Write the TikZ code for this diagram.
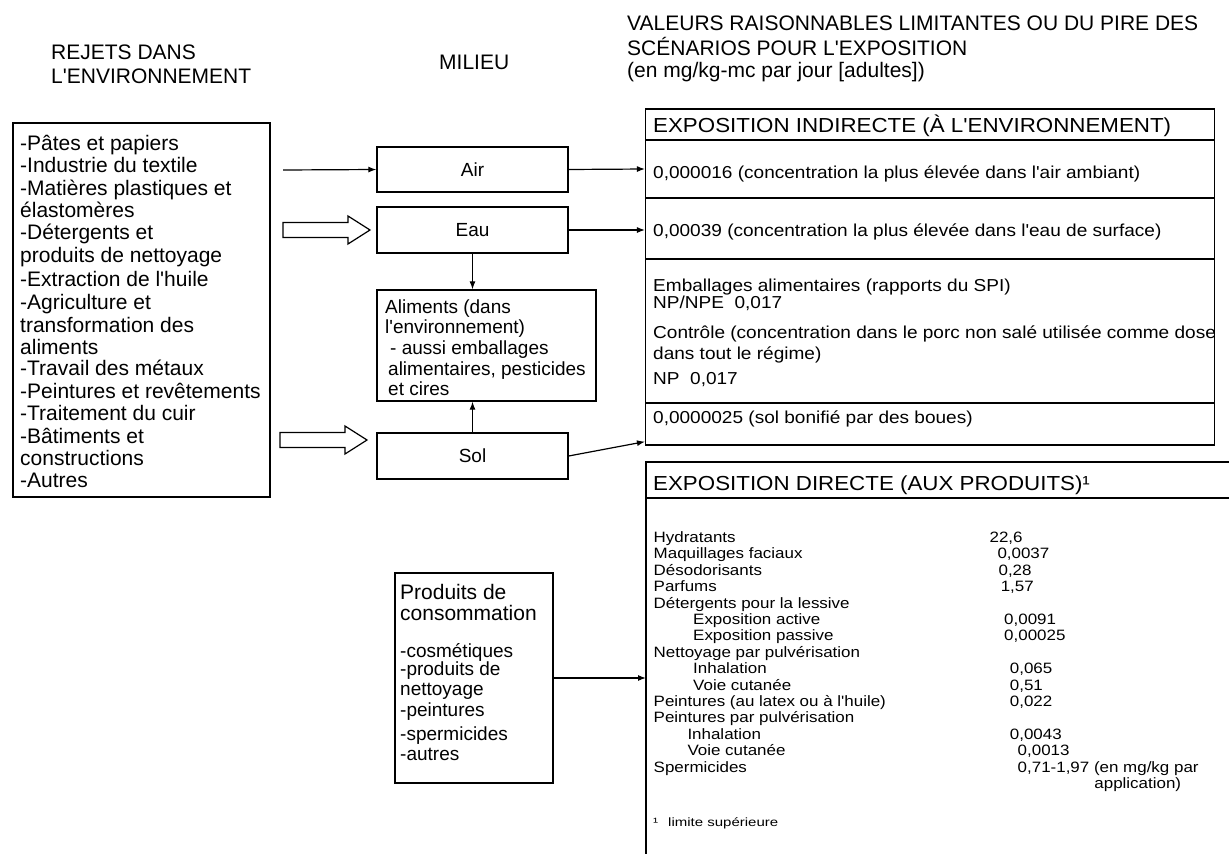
\documentclass[tikz,border=0pt]{standalone}
\usepackage{fontspec}
\setmainfont{Liberation Sans}[Ligatures=TeXOff]
\newfontfamily\wide{Liberation Sans}[FakeStretch=1.1]
\newfontfamily\wider{Liberation Sans}[FakeStretch=1.13]
\newfontfamily\widest{Liberation Sans}[FakeStretch=1.25]
\usetikzlibrary{arrows.meta,calc}
\tikzset{
  box/.style={draw, line width=1.3pt, rectangle, inner sep=0pt},
  lbl/.style={anchor=base west, inner sep=0pt},
  hdr/.style={lbl, font=\fontsize{21}{25}\selectfont},
  rj/.style={lbl, font=\fontsize{21}{25}\selectfont},
  md/.style={font=\fontsize{19}{23}\selectfont},
  mdl/.style={lbl, font=\fontsize{19}{23}\selectfont},
  pc/.style={lbl, font=\fontsize{21}{25}\selectfont},
  ex/.style={lbl, font=\wide\fontsize{17.3}{20}\selectfont},
  exh/.style={lbl, font=\wide\fontsize{20.3}{24}\selectfont},
  li/.style={lbl, font=\wider\fontsize{15}{18}\selectfont},
  fn/.style={lbl, font=\widest\fontsize{12}{14}\selectfont},
  arr/.style={line width=1.2pt, -{Latex[length=8pt,width=6pt]}},
  hollow/.style={draw, line width=1.2pt, fill=white, line join=miter},
}
\begin{document}
\begin{tikzpicture}[x=1pt,y=-1pt]
\fill[white] (0,0) rectangle (1229,854);
\useasboundingbox (0,0) rectangle (1229,854);

% column headers
\node[hdr] (h1a) at (51,59.5) {REJETS DANS};
\node[hdr] (h1b) at (51,83.5) {L'ENVIRONNEMENT};
\node[hdr] (h2) at (439,69.5) {MILIEU};
\node[hdr] (h3a) at (627,30) {VALEURS RAISONNABLES LIMITANTES OU DU PIRE DES};
\node[hdr] (h3b) at (627,55) {SCÉNARIOS POUR L'EXPOSITION};
\node[hdr] (h3c) at (627,77.5) {(en mg/kg-mc par jour [adultes])};

% releases box
\node[box, minimum width=257pt, minimum height=374pt] (rejets) at (141.5,310) {};
\foreach \t/\yy [count=\i] in {-Pâtes et papiers/150.5, -Industrie du textile/172.5,
  -Matières plastiques et/195.5, élastomères/217.5, -Détergents et/239.5,
  produits de nettoyage/262.5, -Extraction de l'huile/286.5, -Agriculture et/309.5,
  transformation des/332.5, aliments/354.5, -Travail des métaux/375.5,
  -Peintures et revêtements/398.5, -Traitement du cuir/420.5, -Bâtiments et/443.5,
  constructions/465.5, -Autres/487.5}
  \node[rj, name=rj\i] at (20,\yy) {\t};

% media boxes
\node[box, md, minimum width=191pt, minimum height=45pt] (air) at (472.5,169.5) {Air};
\node[box, md, minimum width=191pt, minimum height=46pt] (eau) at (472.5,230) {Eau};
\node[box, md, minimum width=191pt, minimum height=46pt] (sol) at (472.5,456) {Sol};
\node[box, minimum width=219pt, minimum height=111pt] (alim) at (486.5,345.5) {};
\node[mdl] (al1) at (385,313) {Aliments (dans};
\node[mdl] (al2) at (385,333) {l'environnement)};
\node[mdl] (al3) at (390,354) {- aussi emballages};
\node[mdl] (al4) at (388,375) {alimentaires, pesticides};
\node[mdl] (al5) at (388,395) {et cires};

% inputs
\coordinate (airin) at (283,170);
\draw[arr] (airin) -- (air.west);
\coordinate (eauin) at (283,230);
\draw[hollow] (eauin) ++(0,-7.5) -- ++(65,0) -- ++(0,-6.5) -- ++(22,14) -- ++(-22,14)
  -- ++(0,-6.5) -- ++(-65,0) -- cycle;
\coordinate (solin) at (280,440);
\draw[hollow] (solin) ++(0,-7.5) -- ++(65,0) -- ++(0,-6.5) -- ++(22,14) -- ++(-22,14)
  -- ++(0,-6.5) -- ++(-65,0) -- cycle;

% internal arrows
\draw[arr] (eau.south) -- (eau.south |- alim.north);
\draw[arr] (sol.north) -- (sol.north |- alim.south);

% indirect exposure table
\node[box, minimum width=569.2pt, minimum height=31pt] (hdr) at (930.2,124.5) {};
\node[box, minimum width=569.2pt, minimum height=58pt] (rowair) at (930.2,169) {};
\node[box, minimum width=569.2pt, minimum height=61pt] (roweau) at (930.2,228.5) {};
\node[box, minimum width=569.2pt, minimum height=144pt] (rowfood) at (930.2,331) {};
\node[box, minimum width=569.2pt, minimum height=42pt] (rowsol) at (930.2,424) {};
\node[exh] (t0) at (653,132) {EXPOSITION INDIRECTE (À L'ENVIRONNEMENT)};
\node[ex] (t1) at (653,178) {0,000016 (concentration la plus élevée dans l'air ambiant)};
\node[ex] (t2) at (653,236) {0,00039 (concentration la plus élevée dans l'eau de surface)};
\node[ex] (t3) at (653,291) {Emballages alimentaires (rapports du SPI)};
\node[ex] (t4) at (653,308) {NP/NPE\ \ 0,017};
\begin{scope}
  \clip (645,259) rectangle (1214,403);
  \node[ex] (t5) at (653,338) {Contrôle (concentration dans le porc non salé utilisée comme dose};
\end{scope}
\node[ex] (t6) at (653,359) {dans tout le régime)};
\node[ex] (t7) at (653,384) {NP\ \ 0,017};
\node[ex] (t8) at (653,423) {0,0000025 (sol bonifié par des boues)};

\draw[arr] (air.east) -- (rowair.west);
\draw[arr] (eau.east) -- (roweau.west |- eau.east);
\draw[arr] (sol.east) -- ($(rowsol.south west)+(0,-4)$);

% consumer products
\node[box, minimum width=158pt, minimum height=210pt] (prod) at (474,678) {};
\node[pc] (p1) at (400,599.5) {Produits de};
\node[pc] (p2) at (400,620.5) {consommation};
\node[mdl] (p3) at (400,657) {-cosmétiques};
\node[mdl] (p4) at (400,675) {-produits de};
\node[mdl] (p5) at (400,695) {nettoyage};
\node[mdl] (p6) at (400,716) {-peintures};
\node[mdl] (p7) at (400,740) {-spermicides};
\node[mdl] (p8) at (400,760) {-autres};

% direct exposure table (open at right and bottom)
\draw[line width=1.3pt] (1229,462) -| (646,854);
\draw[line width=1.3pt] (646,498) -- (1229,498);
\coordinate (dirin) at (646,678);
\draw[arr] (prod.east) -- (dirin);
\node[exh] (d0) at (653,490) {EXPOSITION DIRECTE (AUX PRODUITS)¹};

\foreach \t/\xx/\v/\vx [count=\i from 0] in {
  Hydratants/653.5/{22,6}/989.4,
  Maquillages faciaux/653.5/{0,0037}/997.3,
  Désodorisants/653.5/{0,28}/998.4,
  Parfums/653.5/{1,57}/1000.6,
  Détergents pour la lessive/653.5//1000,
  Exposition active/693/{0,0091}/1004,
  Exposition passive/693/{0,00025}/1004,
  Nettoyage par pulvérisation/653.5//1004,
  Inhalation/693/{0,065}/1009.7,
  Voie cutanée/693/{0,51}/1009.7,
  Peintures (au latex ou à l'huile)/653.5/{0,022}/1009.7,
  Peintures par pulvérisation/653.5//1009.7,
  Inhalation/687.3/{0,0043}/1009.7,
  Voie cutanée/687.3/{0,0013}/1017.5,
  Spermicides/653.5/{0,71-1,97 (en mg/kg par}/1017.5}
{
  \node[li, name=dl\i] at (\xx,{542.4+16.4*\i}) {\t};
  \node[li, name=dv\i] at (\vx,{542.4+16.4*\i}) {\v};
}
\node[li] (dapp) at (1094.2,788.4) {application)};
\node[fn] (fn1) at (653,826) {¹};
\node[fn] (fn2) at (668,826) {limite supérieure};
\end{tikzpicture}
\end{document}
